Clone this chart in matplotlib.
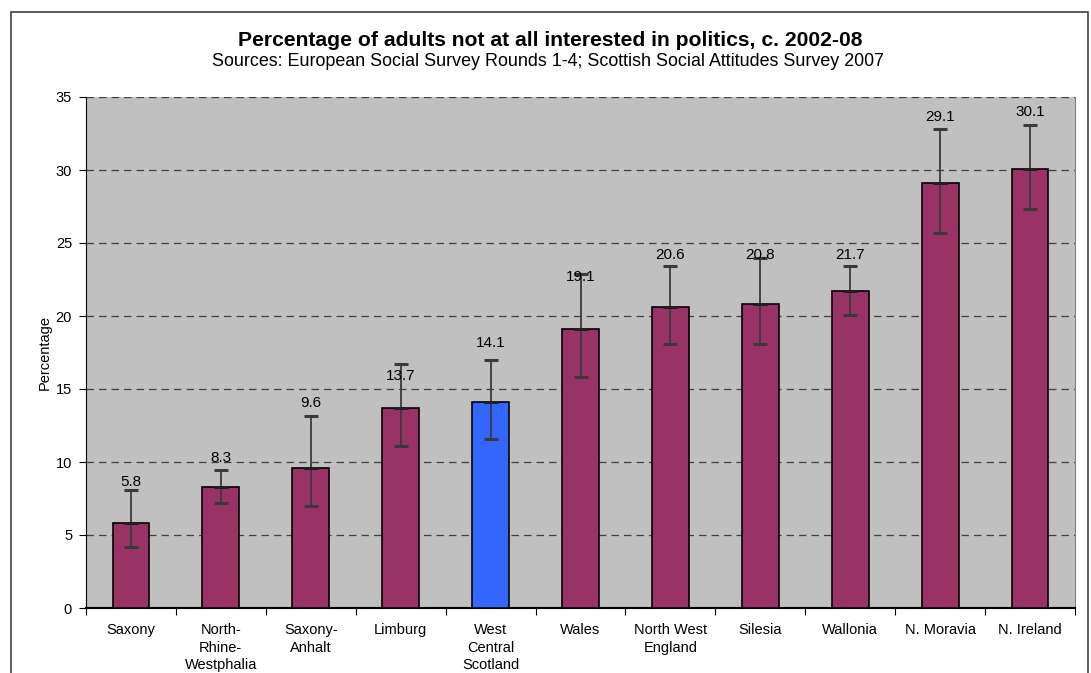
import matplotlib
matplotlib.use("Agg")
import matplotlib.pyplot as plt
from matplotlib.patches import Rectangle
import numpy as np

plt.rcParams['font.family'] = ['Liberation Sans', 'DejaVu Sans']

categories = ["Saxony", "North-\nRhine-\nWestphalia", "Saxony-\nAnhalt", "Limburg",
              "West\nCentral\nScotland", "Wales", "North West\nEngland", "Silesia",
              "Wallonia", "N. Moravia", "N. Ireland"]
values = [5.8, 8.3, 9.6, 13.7, 14.1, 19.1, 20.6, 20.8, 21.7, 29.1, 30.1]
ci_low = [4.2, 7.2, 7.0, 11.1, 11.6, 15.8, 18.1, 18.1, 20.1, 25.7, 27.3]
ci_high = [8.1, 9.45, 13.15, 16.7, 17.0, 22.9, 23.4, 23.95, 23.4, 32.8, 33.1]
highlight = "West\nCentral\nScotland"

W, H = 1091, 673
fig = plt.figure(figsize=(W / 100, H / 100), dpi=100)
fig.patch.set_facecolor("white")

# outer chart frame
fig.patches.append(Rectangle((11 / W, -0.05), (1088 - 11) / W, 1.05 - 12 / H,
                             transform=fig.transFigure, fill=False,
                             edgecolor="#404040", linewidth=1.2))

ax = fig.add_axes([86 / W, (H - 608) / H, (1075 - 86) / W, (608 - 97) / H])
ax.set_facecolor("#C0C0C0")

x = np.arange(len(categories))
colors = ["#3366FF" if c == highlight else "#993366" for c in categories]
ax.bar(x, values, width=0.41, color=colors, edgecolor="black", linewidth=1.2, zorder=3)

vals = np.array(values)
yerr = np.vstack([vals - np.array(ci_low), np.array(ci_high) - vals])
ax.errorbar(x, vals, yerr=yerr, fmt="none", ecolor="#3a3a3a", elinewidth=1.3,
            capsize=5, capthick=2.2, zorder=4)
# tick at the mean (as drawn by the original)
ax.errorbar(x, vals, yerr=0, fmt="none", ecolor="#202020", elinewidth=0,
            capsize=5, capthick=2.0, zorder=4)

label_heights = [8.63, 10.27, 14.06, 15.89, 18.17, 22.69, 24.18, 24.18, 24.2, 33.6, 33.95]
for xi, v, ly in zip(x, values, label_heights):
    ax.text(xi, ly, f"{v:.1f}", ha="center", va="center", fontsize=11, color="black", zorder=5)

ax.set_xlim(-0.5, len(categories) - 0.5)
ax.set_ylim(0, 35)
ax.set_yticks(np.arange(0, 36, 5))
ax.yaxis.grid(True, linestyle=(0, (6, 4)), color="#404040", linewidth=0.9, zorder=0)
ax.set_axisbelow(True)

ax.set_xticks(np.arange(-0.5, len(categories), 1))
ax.set_xticklabels([])
ax.set_xticks(x, minor=True)
ax.set_xticklabels(categories, minor=True, fontsize=10.5, linespacing=1.3)
ax.tick_params(axis="x", which="minor", length=0, pad=11)
ax.tick_params(axis="x", which="major", length=5, direction="out", color="black")
ax.tick_params(axis="y", length=5, direction="out", labelsize=10.5, pad=5)

ax.spines["top"].set_visible(False)
ax.spines["right"].set_color("#808080")
ax.spines["left"].set_color("black")
ax.spines["bottom"].set_color("black")
ax.spines["bottom"].set_linewidth(1.5)

ax.set_ylabel("Percentage", fontsize=10.5, labelpad=3)

fig.text(550 / W, 1 - 40 / H, "Percentage of adults not at all interested in politics, c. 2002-08",
         ha="center", va="center", fontsize=15.2, fontweight="bold")
fig.text(548 / W, 1 - 61 / H, "Sources: European Social Survey Rounds 1-4; Scottish Social Attitudes Survey 2007",
         ha="center", va="center", fontsize=12.9)

fig.savefig("out.png", dpi=100)
